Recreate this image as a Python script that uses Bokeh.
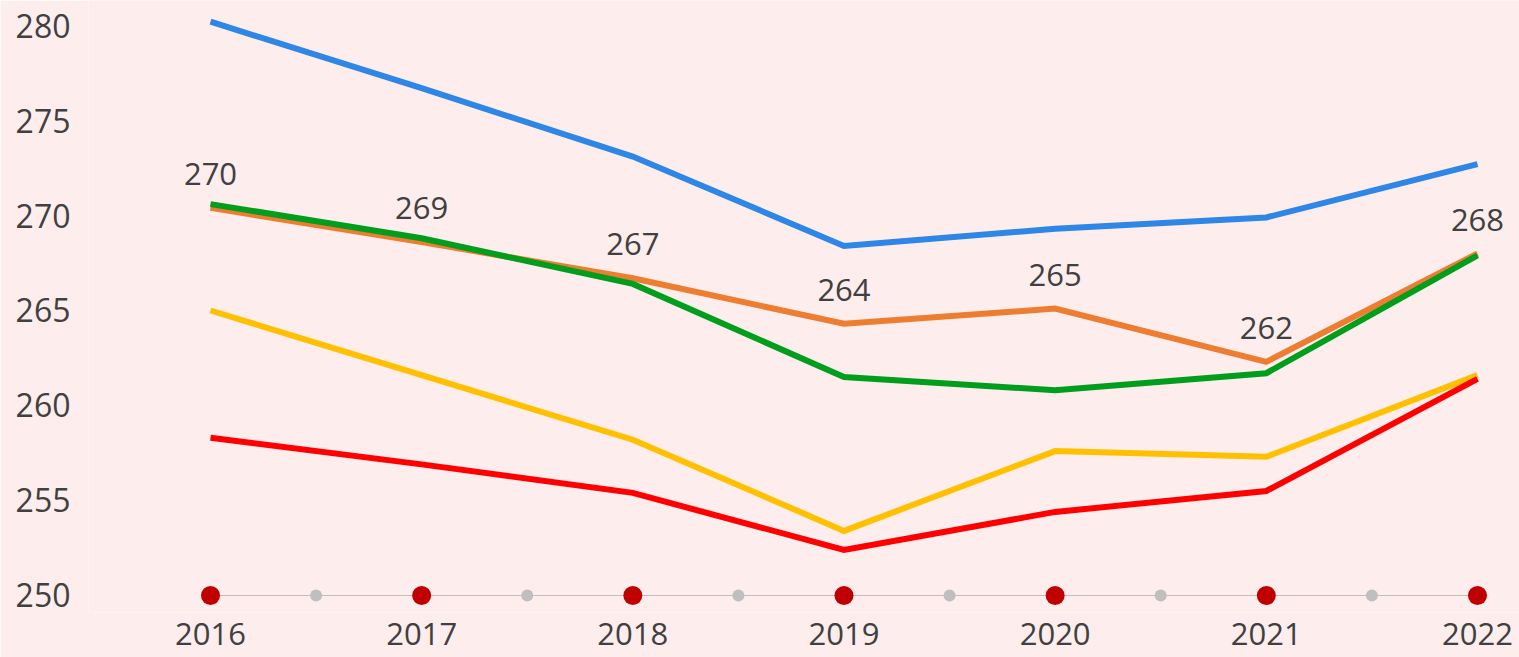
from bokeh.plotting import figure
from bokeh.models import ColumnDataSource, FixedTicker
from bokeh.embed import file_html
from bokeh.resources import INLINE
from bokeh.core.properties import value

years = [2016, 2017, 2018, 2019, 2020, 2021, 2022]
blue = [280.2, 276.7, 273.1, 268.4, 269.3, 269.9, 272.7]
orange = [270.4, 268.6, 266.7, 264.3, 265.1, 262.3, 268.0]
green = [270.6, 268.8, 266.4, 261.5, 260.8, 261.7, 267.9]
yellow = [265.0, 261.6, 258.2, 253.4, 257.6, 257.3, 261.6]
red = [258.3, 256.9, 255.4, 252.4, 254.4, 255.5, 261.4]
orange_labels = ["270", "269", "267", "264", "265", "262", "268"]
half_years = [2016.5, 2017.5, 2018.5, 2019.5, 2020.5, 2021.5]
y_ticks = [250, 255, 260, 265, 270, 275, 280]

BG = "#FDEDED"
FONT = "Open Sans"
TXT = "#404040"

p = figure(width=1519, height=657, output_backend="svg", toolbar_location=None,
           x_range=(2015.4223, 2022.199), y_range=(249.105, 281.316),
           min_border_left=88, min_border_right=0, min_border_top=0, min_border_bottom=45)
p.background_fill_color = BG
p.border_fill_color = BG
p.outline_line_color = None
p.grid.visible = False

# axes
p.yaxis.ticker = FixedTicker(ticks=y_ticks)
p.xaxis.ticker = FixedTicker(ticks=years)
for ax in (p.xaxis, p.yaxis):
    ax.axis_line_color = None
    ax.major_tick_line_color = None
    ax.minor_tick_line_color = None
    ax.major_tick_out = 0
    ax.major_tick_in = 0
    ax.major_label_text_font = FONT
    ax.major_label_text_font_size = "32px"
    ax.major_label_text_color = TXT
p.xaxis.major_label_text_font_size = "31px"
p.yaxis.major_label_standoff = 18
p.xaxis.major_label_standoff = 10

# baseline category axis line with markers
p.line(x=[years[0], years[-1]], y=[250, 250], line_color="#BFBFBF", line_width=1.2)
p.scatter(x=half_years, y=[250] * len(half_years), size=12, fill_color="#BFBFBF", line_color=None)
p.scatter(x=years, y=[250] * len(years), size=19, fill_color="#C00000", line_color=None)

series = [(blue, "#2E86E6"), (orange, "#ED7D31"), (green, "#009E1C"),
          (yellow, "#FFC000"), (red, "#FF0000")]
for vals, col in series:
    p.line(x=years, y=vals, line_color=col, line_width=6, line_join="miter")

src = ColumnDataSource(data=dict(x=years, y=orange, t=orange_labels))
p.text(x="x", y="y", text="t", source=src, y_offset=-34,
       text_align="center", text_baseline="middle",
       text_font=value(FONT), text_font_size="31px", text_color=TXT)

open("out.html", "w").write(file_html(p, INLINE))
